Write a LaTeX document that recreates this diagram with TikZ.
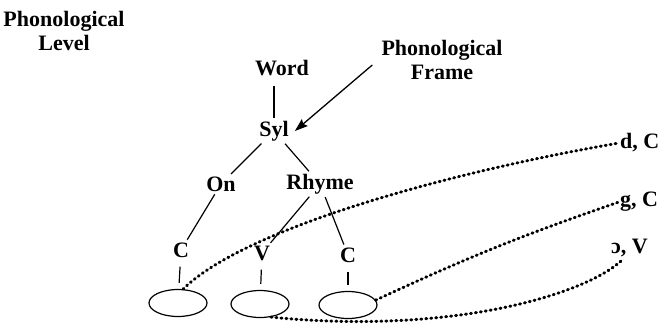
\documentclass[tikz,border=0pt]{standalone}
\usepackage{fontspec}
\setmainfont{Liberation Serif}
\usetikzlibrary{arrows.meta,shapes.geometric}
\tikzset{
  >={Stealth[length=13pt,width=9pt,inset=2pt]},
  % baum
  lbl/.style={font=\fontsize{22}{24.5}\selectfont\bfseries,inner sep=1pt,align=center},
  te/.style={draw=black,line width=1.2pt,shorten <=2pt,shorten >=2pt},
  stem/.style={draw=black,line width=1.2pt,shorten <=8pt,shorten >=6pt},
  slot/.style={ellipse,draw=black,line width=1.2pt,minimum width=58pt,
               minimum height=27pt,inner sep=0pt},
  fa/.style={->,draw=black,line width=1.3pt},
  % segmente
  lnk/.style={draw=black,line width=3pt,line cap=round,dash pattern=on 1pt off 4pt},
}
\begin{document}
\begin{tikzpicture}[x=1pt,y=-1pt]
  \useasboundingbox (0,0) rectangle (666,330);
  \node[lbl] (lvl) at (64,31) {Phonological\\Level};
  \node[lbl] (frame) at (442,60) {Phonological\\Frame};
  \node[lbl] (word) at (282,68) {Word};
  \node[lbl] (syl) at (274,131) {Syl};
  \node[lbl] (on) at (221,184) {On};
  \node[lbl] (rhyme) at (320,184) {Rhyme};
  \node[lbl] (c1) at (181,250) {C};
  \node[lbl] (v) at (262,253) {V};
  \node[lbl] (c2) at (348,255) {C};
  \node[slot] (e1) at (178,303) {};
  \node[slot] (e2) at (260,304) {};
  \node[slot] (e3) at (348,305) {};
  \node[lbl,anchor=west] (dc) at (619,143) {d, C};
  \node[lbl,anchor=west] (gc) at (619,202) {g, C};
  \node[lbl,anchor=west] (ov) at (610,248) {ɔ, V};
  \draw[te,shorten <=9pt] (word.south -| syl.north) -- (syl.north);
  \draw[te] (syl) -- (on);
  \draw[te] (syl) -- (rhyme);
  \draw[te] (on) -- (c1);
  \draw[te] (rhyme) -- (v);
  \draw[te] (rhyme) -- (c2);
  \draw[stem] (c1) -- (e1);
  \draw[stem] (v) -- (e2);
  \draw[stem] (c2) -- (e3);
  \draw[fa] ([xshift=-8pt,yshift=-5pt]frame.west) -- ([xshift=5pt]syl.east);
  \draw[lnk] (e1.70) .. controls (245,228) and (450,172) .. (dc.west);
  \draw[lnk] (e3.10) to[bend left=3] (gc.west);
  \draw[lnk] (e2.-50) .. controls (450,335) and (585,295) .. ([xshift=12pt,yshift=-2pt]ov.south west);
\end{tikzpicture}
\end{document}
